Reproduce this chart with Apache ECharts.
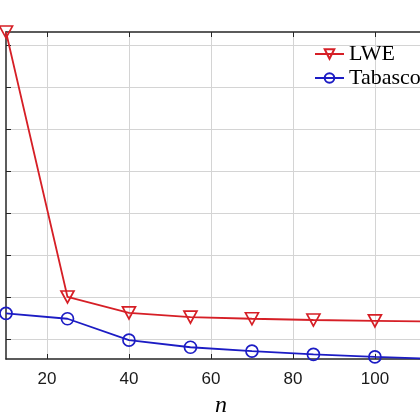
<!DOCTYPE html>
<html style="height: 100%;">
<head>
<meta charset="utf-8">
<title>LWE vs Tabasco</title>
<script src="https://cdn.jsdelivr.net/npm/echarts@6/dist/echarts.min.js"></script>
</head>
<body style="height: 100%; margin: 0; background: #fff;">
<div id="container" style="width: 420px; height: 420px;"></div>
<script type="text/javascript">
// n values (last one falls just past the right edge of the cropped figure)
var nValues = [10, 25, 40, 55, 70, 85, 100, 115];
// y in grid units (gridlines at integers)
var lweValues = [8.32, 2.00, 1.62, 1.52, 1.48, 1.45, 1.43, 1.41];
var tabascoValues = [1.61, 1.48, 0.97, 0.80, 0.71, 0.63, 0.57, 0.52];
var seriesNames = ['LWE', 'Tabasco'];
var xTicks = [20, 40, 60, 80, 100];
var yTicks = [1, 2, 3, 4, 5, 6, 7, 8];

var red = '#d61f26';
var blue = '#1c1cc4';
var axisColor = '#262626';

function pairs(xs, ys) {
  var out = [];
  for (var i = 0; i < xs.length; i++) out.push([xs[i], ys[i]]);
  return out;
}

var myChart = echarts.init(document.getElementById('container'), null, { renderer: 'canvas' });

var xBase = {
  type: 'value',
  min: 10,
  max: 111,
  axisLine: { show: true, onZero: false, lineStyle: { color: axisColor, width: 1.5 } },
  axisTick: { show: true, inside: true, length: 5, customValues: xTicks, lineStyle: { color: axisColor, width: 1 } }
};

var option = {
  animation: false,
  grid: { left: 6, right: 0, top: 32, bottom: 61, outerBoundsMode: 'none' },
  xAxis: [
    Object.assign({}, xBase, {
      position: 'bottom',
      axisLabel: {
        show: true, customValues: xTicks,
        color: '#1a1a1a', fontSize: 17, fontFamily: 'Liberation Sans', margin: 12
      },
      splitLine: { show: true, lineStyle: { color: '#d4d4d4', width: 1 } }
    }),
    Object.assign({}, xBase, {
      position: 'top',
      axisLabel: { show: false },
      splitLine: { show: false }
    })
  ],
  yAxis: {
    type: 'value',
    min: 0.52,
    max: 8.32,
    axisLine: { show: true, onZero: false, lineStyle: { color: axisColor, width: 1.5 } },
    axisTick: { show: true, inside: true, length: 5, customValues: yTicks, lineStyle: { color: axisColor, width: 1 } },
    axisLabel: { show: false },
    splitLine: { show: true, lineStyle: { color: '#d4d4d4', width: 1 } }
  },
  legend: {
    orient: 'vertical',
    left: 314,
    top: 43,
    padding: 0,
    itemWidth: 29,
    itemHeight: 12,
    itemGap: 2,
    textStyle: { fontFamily: 'Liberation Serif', fontSize: 22, color: '#000', lineHeight: 22 },
    data: seriesNames
  },
  graphic: [{
    type: 'text',
    left: 215,
    top: 394,
    style: { text: 'n', font: 'italic 24px "Liberation Serif"', fill: '#000' }
  }],
  series: [
    {
      name: seriesNames[0],
      type: 'line',
      data: pairs(nValues, lweValues),
      symbol: 'triangle',
      symbolRotate: 180,
      symbolSize: [13, 12],
      showAllSymbol: true,
      lineStyle: { color: red, width: 1.8 },
      itemStyle: { color: 'rgba(255,255,255,0)', borderColor: red, borderWidth: 1.7 }
    },
    {
      name: seriesNames[1],
      type: 'line',
      data: pairs(nValues, tabascoValues),
      symbol: 'circle',
      symbolSize: 12,
      showAllSymbol: true,
      lineStyle: { color: blue, width: 1.8 },
      itemStyle: { color: 'rgba(255,255,255,0)', borderColor: blue, borderWidth: 1.7 }
    }
  ]
};

myChart.setOption(option);
</script>
</body>
</html>
